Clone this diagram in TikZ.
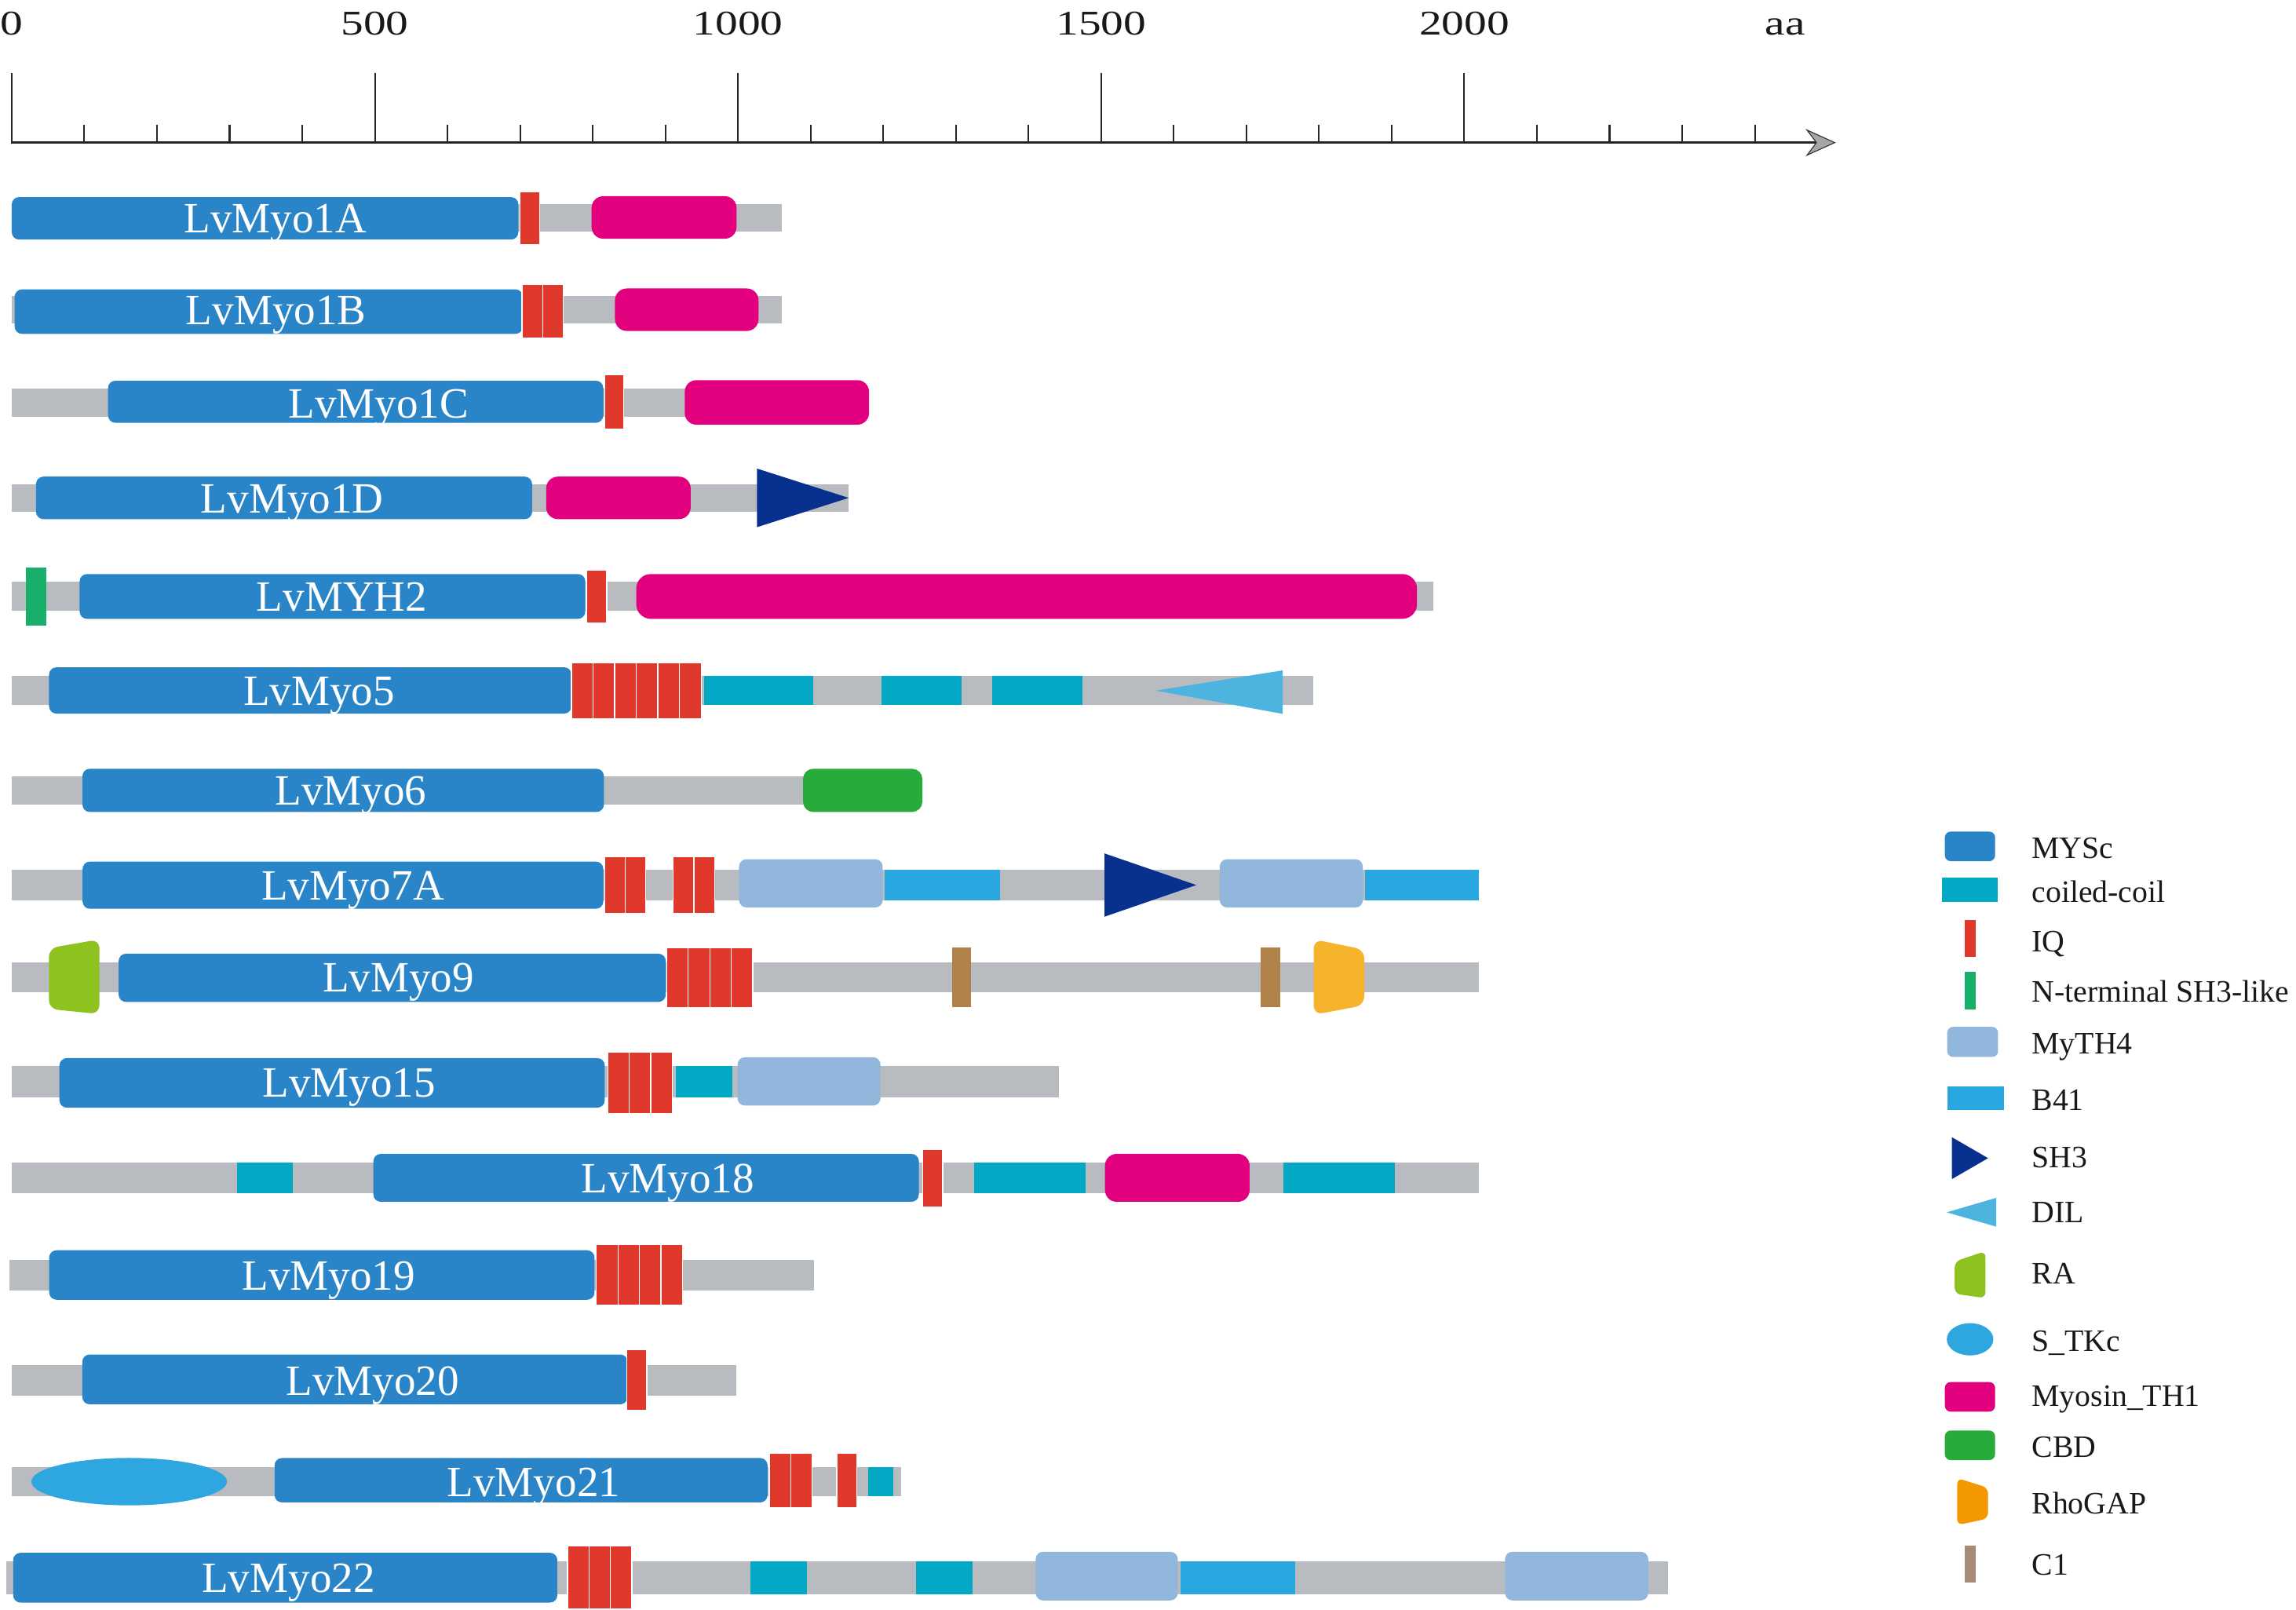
\documentclass[tikz,border=0pt]{standalone}
\usepackage{fontspec}
\setmainfont{Liberation Serif}
\definecolor{cgray}{HTML}{B8BBBF}
\definecolor{cmysc}{HTML}{2A85C8}
\definecolor{ciq}{HTML}{E0382A}
\definecolor{cpink}{HTML}{E3007F}
\definecolor{ccc}{HTML}{03A8C4}
\definecolor{cmyth}{HTML}{92B7DD}
\definecolor{cbfo}{HTML}{29A7E1}
\definecolor{csht}{HTML}{07308F}
\definecolor{cdil}{HTML}{4DB4DF}
\definecolor{cra}{HTML}{8DC21F}
\definecolor{cstk}{HTML}{2EA7E0}
\definecolor{ccbd}{HTML}{27AC3B}
\definecolor{crho}{HTML}{F6B42C}
\definecolor{crholeg}{HTML}{F39800}
\definecolor{cone}{HTML}{B1814A}
\definecolor{coneleg}{HTML}{A78B77}
\definecolor{cnt}{HTML}{18AF6B}
\newcommand\iqrun[5]{\foreach \k in {1,...,#3}{\path[iqbar] ({#1+(\k-1)*#2},#4) rectangle ({#1+\k*#2},#5);}}
\begin{document}
\begin{tikzpicture}[x=0.5mm,y=-0.5mm,
  bbar/.style={fill=cgray},
  mysc/.style={fill=cmysc, rounded corners=2.5mm},
  iqbar/.style={fill=ciq, draw=white, line width=0.35mm},
  thone/.style={fill=cpink, rounded corners=4mm},
  ccoil/.style={fill=ccc},
  myth/.style={fill=cmyth, rounded corners=2.5mm},
  bfo/.style={fill=cbfo},
  shthree/.style={fill=csht},
  dilst/.style={fill=cdil},
  cbdst/.style={fill=ccbd, rounded corners=3.5mm},
  cone/.style={fill=cone},
  lbl/.style={text=white, font=\fontsize{42}{48}\selectfont, anchor=base, inner sep=0pt},
  leg/.style={font=\fontsize{30.3}{36}\selectfont, anchor=base west, inner sep=0pt, text=black!90},
  axl/.style={font=\fontsize{33.7}{40}\selectfont, anchor=base, inner sep=0pt, text=black!90},
  tickst/.style={line width=0.55mm, black!85}
]
\useasboundingbox (0,0) rectangle (1568,1099);
\fill[white] (0,0) rectangle (1568,1099);

% ---------- axis ----------
\coordinate (axs) at (7.5,97.4);
\coordinate (axe) at (1241,97.4);
\draw[line width=0.9mm, black!85] (axs) -- (axe);
\foreach \i in {0,...,4}{\draw[tickst] ({8+248*\i},50) -- ({8+248*\i},97.4);}
\foreach \i in {1,...,24}{\draw[tickst] ({8+49.6*\i},85) -- ({8+49.6*\i},97.4);}
\filldraw[fill=gray!70, draw=black!80, line width=0.3mm] (1234,88.8) -- (1253,97.4) -- (1234,106) -- (1240.5,97.4) -- cycle;
\node[axl] (tz) at (8,24) {\scalebox{1.3}[1]{0}};
\node[axl] (tfh) at (256,24) {\scalebox{1.3}[1]{500}};
\node[axl] (tot) at (504,24) {\scalebox{1.3}[1]{1000}};
\node[axl] (tofh) at (752,24) {\scalebox{1.3}[1]{1500}};
\node[axl] (ttt) at (1000,24) {\scalebox{1.3}[1]{2000}};
\node[axl] (taa) at (1219,24) {\scalebox{1.3}[1]{aa}};

% ---------- Row 1 LvMyo1A ----------
\fill[bbar] (8,139.3) rectangle (534,158.3);
\fill[mysc] (8,134.6) rectangle (354,163.6);
\fill[thone] (404,134) rectangle (503,163);
\iqrun{355}{13.5}{1}{131}{167}
\node[lbl] (la) at (188,159) {LvMyo1A};

% ---------- Row 2 LvMyo1B ----------
\fill[bbar] (8,202) rectangle (534,221);
\fill[mysc] (10,197.6) rectangle (357,228);
\fill[thone] (420,197) rectangle (518,226);
\iqrun{356.5}{14.15}{2}{194}{231}
\node[lbl] (lb) at (188.5,221.7) {LvMyo1B};

% ---------- Row 3 LvMyo1C ----------
\fill[bbar] (8,265.5) rectangle (590,284.5);
\fill[mysc] (73.8,260) rectangle (412,288.7);
\fill[thone] (467.6,259.6) rectangle (593.5,290);
\iqrun{413}{13}{1}{256}{293}
\node[lbl] (lc) at (258.5,285.2) {LvMyo1C};

% ---------- Row 4 LvMyo1D ----------
\fill[bbar] (8,330.5) rectangle (579.6,349.5);
\fill[mysc] (24.6,325.5) rectangle (363.4,354.5);
\fill[thone] (373,325.5) rectangle (471.7,354.5);
\fill[shthree] (517,320) -- (579.6,340) -- (517,360) -- cycle;
\node[lbl] (ld) at (199.5,350.2) {LvMyo1D};

% ---------- Row 5 LvMYH2 ----------
\fill[bbar] (8,397.3) rectangle (979,417.3);
\fill[cnt] (17.7,387.4) rectangle (31.6,427.3);
\fill[mysc] (54.4,392) rectangle (399.7,422.6);
\fill[thone, rounded corners=5mm] (434.5,392) rectangle (967.7,422.6);
\iqrun{400.4}{13.9}{1}{389.4}{425.5}
\node[lbl] (le) at (233.5,417.5) {LvMYH2};

% ---------- Row 6 LvMyo5 ----------
\fill[bbar] (8,461.6) rectangle (897,481.6);
\fill[mysc] (33.5,455.7) rectangle (390.3,487.3);
\fill[ccoil] (480.7,461.6) rectangle (555.3,481.6);
\fill[ccoil] (602.1,461.6) rectangle (656.5,481.6);
\fill[ccoil] (677.4,461.6) rectangle (739.4,481.6);
\fill[dilst] (876,457.8) -- (789.3,471.6) -- (876,487.5) -- cycle;
\iqrun{390.3}{14.75}{6}{452.5}{490.9}
\node[lbl] (lf) at (218,481.8) {LvMyo5};

% ---------- Row 7 LvMyo6 ----------
\fill[bbar] (8,530.3) rectangle (550,549.3);
\fill[mysc] (56.3,525) rectangle (412.4,554.5);
\fill[cbdst] (548.4,525) rectangle (629.9,554.5);
\node[lbl] (lg) at (239.5,550) {LvMyo6};

% ---------- Row 8 LvMyo7A ----------
\fill[bbar] (8,594.2) rectangle (1010,614.6);
\fill[mysc] (56.4,588.4) rectangle (412,620.6);
\fill[myth] (504.7,586.8) rectangle (602.8,619.7);
\fill[bfo] (604,594.2) rectangle (683,614.6);
\fill[shthree] (754.3,582.8) -- (817,604.4) -- (754.3,626) -- cycle;
\fill[myth] (833,586.8) rectangle (930.7,619.7);
\fill[bfo] (932,594.2) rectangle (1010,614.6);
\iqrun{413}{14}{2}{584.9}{624}
\iqrun{459.8}{14.05}{2}{584.9}{624}
\node[lbl] (lh) at (241,614.6) {LvMyo7A};

% ---------- Row 9 LvMyo9 ----------
\fill[bbar] (8,657) rectangle (1010,677.5);
\fill[cra, rounded corners=3mm] (33.4,647.5) -- (67.9,641.5) -- (67.9,692.5) -- (33.4,689) -- cycle;
\fill[mysc] (81,651.3) rectangle (454.7,684.2);
\iqrun{455.3}{14.7}{4}{647.3}{687.9}
\fill[cone] (650,647) rectangle (663.3,688);
\fill[cone] (860.7,647) rectangle (874.3,688);
\fill[crho, rounded corners=3mm] (897.2,641.5) -- (931.7,648.5) -- (931.7,686.5) -- (897.2,693) -- cycle;
\node[lbl] (li) at (272,677.4) {LvMyo9};

% ---------- Row 10 LvMyo15 ----------
\fill[bbar] (8,728.2) rectangle (723,749.2);
\fill[mysc] (40.6,722.6) rectangle (413,756.4);
\iqrun{415}{14.67}{3}{718.7}{760.5}
\fill[ccoil] (461.8,728.2) rectangle (500,749.2);
\fill[myth] (503.7,722) rectangle (601.3,755);
\node[lbl] (lj) at (238.5,748.9) {LvMyo15};

% ---------- Row 11 LvMyo18 ----------
\fill[bbar] (8,794.1) rectangle (1010,815);
\fill[ccoil] (162,794.1) rectangle (200,815);
\fill[mysc] (255,788) rectangle (627.5,820.7);
\iqrun{630.3}{13.5}{1}{784.8}{824.3}
\fill[ccoil] (665,794.1) rectangle (741.4,815);
\fill[thone] (754.6,788) rectangle (853.4,820.7);
\fill[ccoil] (876.5,794.1) rectangle (952.8,815);
\node[lbl] (lk) at (456,814.7) {LvMyo18};

% ---------- Row 12 LvMyo19 ----------
\fill[bbar] (6.2,860.2) rectangle (555.8,881.2);
\fill[mysc] (33.6,853.8) rectangle (406,887.6);
\iqrun{407.3}{14.7}{4}{849.7}{891.3}
\node[lbl] (ll) at (224.5,880.9) {LvMyo19};

% ---------- Row 13 LvMyo20 ----------
\fill[bbar] (8,932) rectangle (503,953);
\fill[mysc] (56.2,925) rectangle (428.6,959);
\iqrun{428.2}{13.5}{1}{921.5}{963}
\node[lbl] (lm) at (254.5,952.7) {LvMyo20};

% ---------- Row 14 LvMyo21 ----------
\fill[bbar] (8,1002) rectangle (615.3,1021.5);
\fill[cstk] (88.2,1011.8) ellipse [x radius=33.4mm, y radius=8.1mm];
\fill[mysc] (187.5,995.7) rectangle (524.2,1026);
\iqrun{525.4}{14.55}{2}{992.3}{1029.5}
\iqrun{571.4}{13.6}{1}{992.3}{1029.5}
\fill[ccoil] (592.7,1002) rectangle (610,1021.5);
\node[lbl] (ln) at (364.5,1022) {LvMyo21};

% ---------- Row 15 LvMyo22 ----------
\fill[bbar] (4.1,1066) rectangle (1139.3,1088.8);
\fill[mysc] (9,1060.4) rectangle (380.6,1094.4);
\iqrun{387.6}{14.63}{3}{1055.6}{1099}
\fill[ccoil] (512.4,1066) rectangle (550.9,1088.8);
\fill[ccoil] (625.6,1066) rectangle (664.1,1088.8);
\fill[myth] (707.3,1059.7) rectangle (804.3,1092.9);
\fill[bfo] (806.4,1066) rectangle (884.6,1088.8);
\fill[myth] (1027.8,1059.7) rectangle (1125.6,1092.9);
\node[lbl] (lo) at (197,1087.6) {LvMyo22};

% ---------- Legend ----------
\fill[mysc, rounded corners=2mm] (1328.2,567.9) rectangle (1362.5,588.1);
\node[leg] (g1) at (1387.5,586) {MYSc};
\fill[ccoil] (1326.4,599.3) rectangle (1364.3,616);
\node[leg] (g2) at (1387.5,616) {coiled-coil};
\fill[ciq] (1341.6,628.3) rectangle (1349.1,653.4);
\node[leg] (g3) at (1387.5,649.9) {IQ};
\fill[cnt] (1342,663.8) rectangle (1349.5,689.4);
\node[leg] (g4) at (1387.5,684.1) {N-terminal SH3-like};
\fill[myth, rounded corners=2mm] (1329.8,701.2) rectangle (1364.5,721.8);
\node[leg] (g5) at (1387.5,719.7) {MyTH4};
\fill[bfo] (1329.8,741.7) rectangle (1368.3,758);
\node[leg] (g6) at (1387.5,758.1) {B41};
\fill[shthree] (1333,776.6) -- (1357.7,790.9) -- (1333,805.2) -- cycle;
\node[leg] (g7) at (1387.5,797.5) {SH3};
\fill[dilst] (1363.3,818) -- (1329.5,827.9) -- (1363.3,837.7) -- cycle;
\node[leg] (g8) at (1387.5,834.8) {DIL};
\fill[cra, rounded corners=2mm] (1334.9,861.5) -- (1355.9,854.4) -- (1355.9,886.5) -- (1334.9,883.5) -- cycle;
\node[leg] (g9) at (1387.5,876.8) {RA};
\fill[cstk] (1345.4,914.6) ellipse [x radius=7.95mm, y radius=5.5mm];
\node[leg] (g10) at (1387.5,922.8) {S\_TKc};
\fill[cpink, rounded corners=2mm] (1328.2,943.8) rectangle (1362.5,964);
\node[leg] (g11) at (1387.5,960.5) {Myosin\_TH1};
\fill[ccbd, rounded corners=2mm] (1328.2,976.9) rectangle (1362.5,997.1);
\node[leg] (g12) at (1387.5,995.4) {CBD};
\fill[crholeg, rounded corners=2mm] (1336.6,1009.4) -- (1357.7,1016) -- (1357.7,1037) -- (1336.6,1041.5) -- cycle;
\node[leg] (g13) at (1387.5,1033.8) {RhoGAP};
\fill[coneleg] (1342,1055.5) rectangle (1349,1080.9);
\node[leg] (g14) at (1387.5,1075.7) {C1};
\end{tikzpicture}
\end{document}
